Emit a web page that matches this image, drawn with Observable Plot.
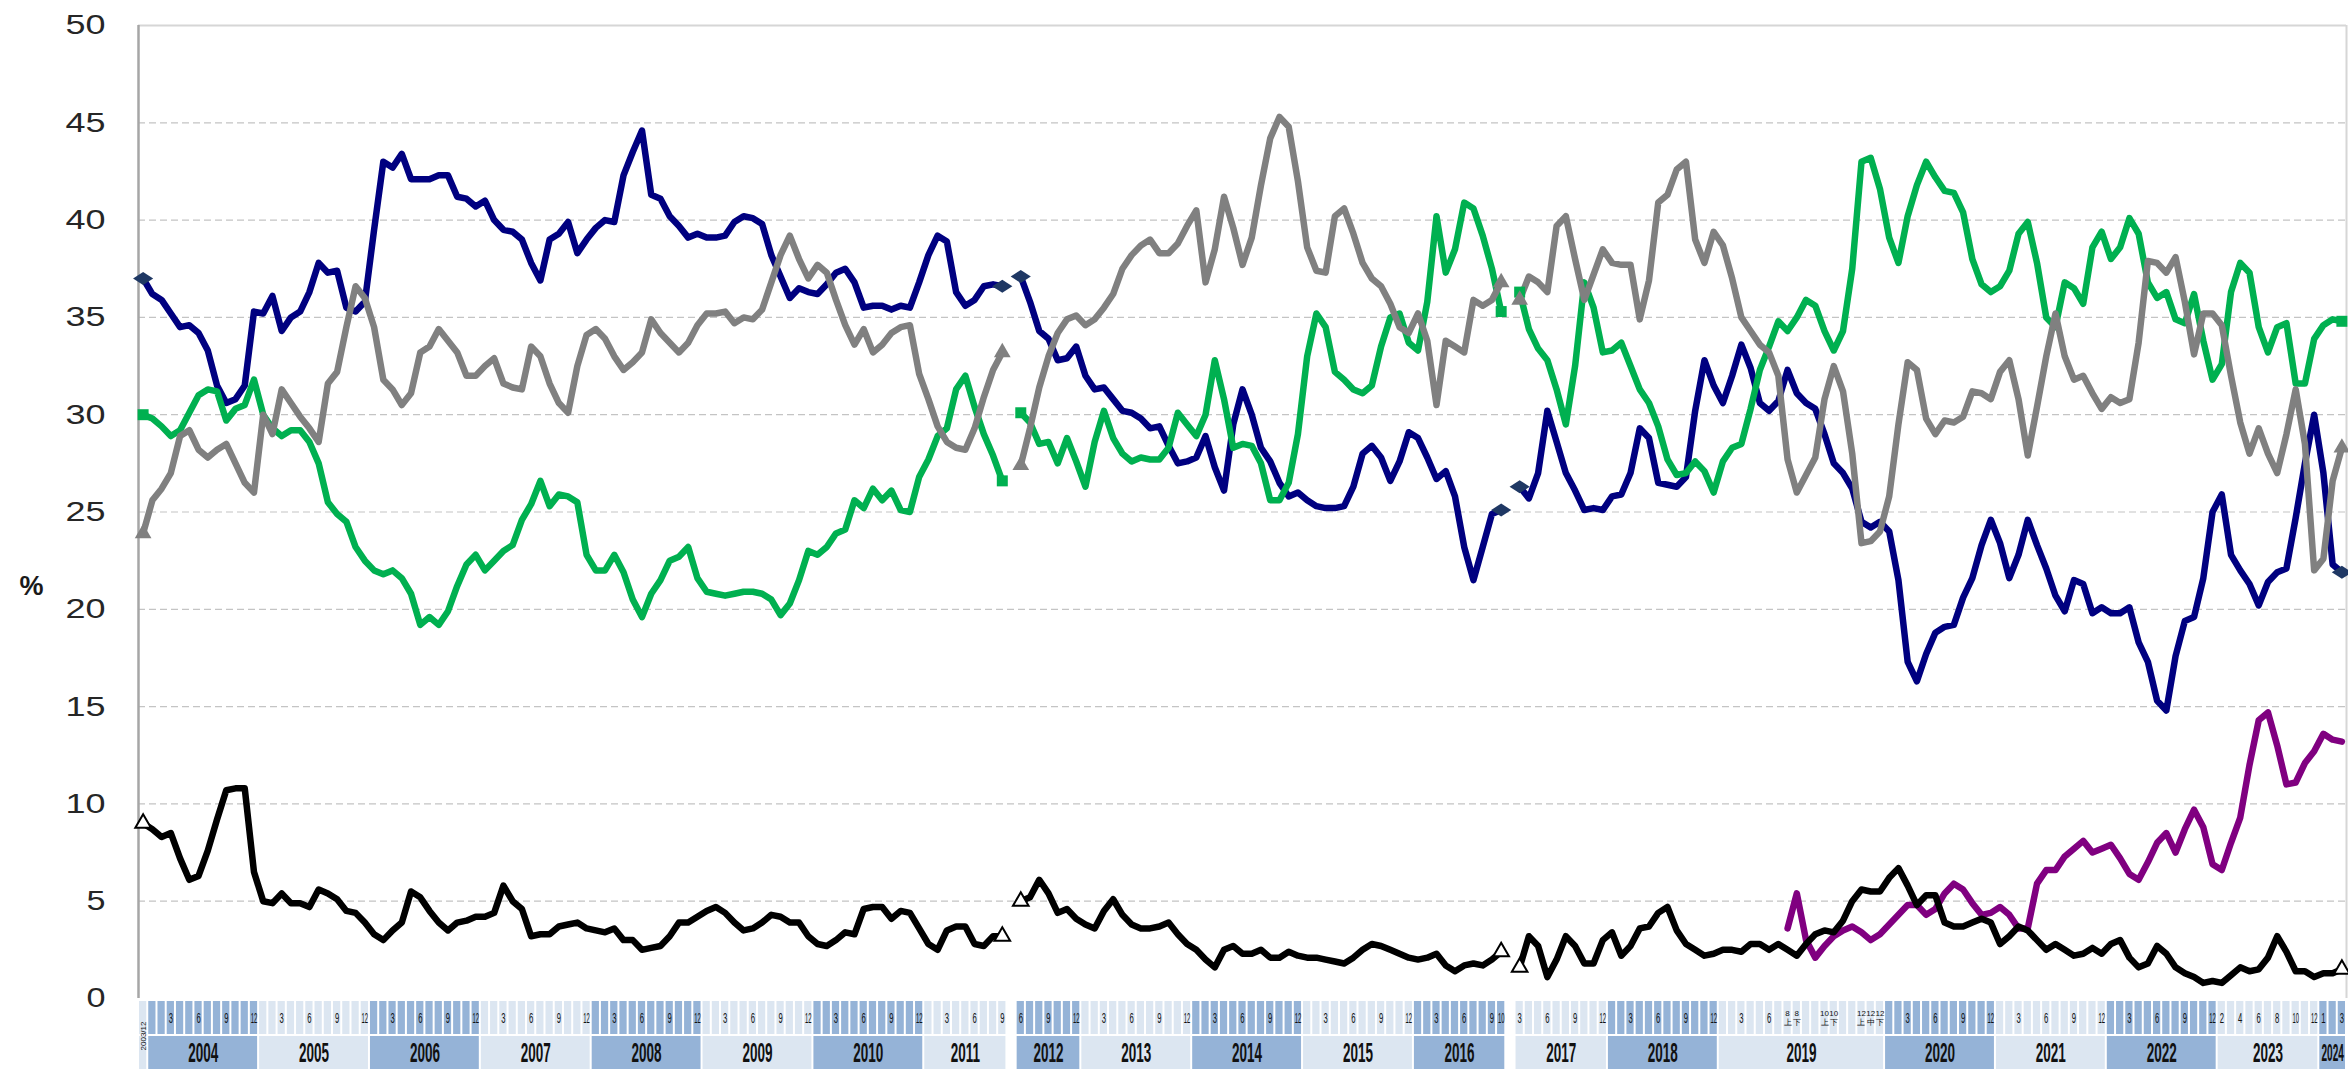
<!DOCTYPE html>
<html><head><meta charset="utf-8">
<script src="https://cdn.jsdelivr.net/npm/d3@7"></script>
<script src="https://cdn.jsdelivr.net/npm/@observablehq/plot@0.6"></script>
<style>
html,body{margin:0;padding:0;background:#fff;}
#chart{position:relative;width:2348px;height:1070px;}
#chart svg{display:block;}
#chart svg.table{position:absolute;left:0;top:1000px;}
</style></head><body><div id="chart"></div>
<script>
// ---------- axis / tick labels ----------
const yTicks = [0,5,10,15,20,25,30,35,40,45,50];
const Q12 = ["","","3","","","6","","","9","","","12"];
const axisYears = ["2003","2004","2005","2006","2007","2008","2009","2010","2011",null,"2012","2013","2014","2015","2016",null,"2017","2018","2019","2020","2021","2022","2023","2024"];
const axisMonthLabels = [
  ["12"], Q12, Q12, Q12, Q12, Q12, Q12, Q12,
  ["","","3","","","6","","","9"],
  [null],
  ["6","","","9","","","12"],
  Q12, Q12, Q12,
  ["","","3","","","6","","","9","10"],
  [null],
  ["3","","","6","","","9","","","12"],
  Q12,
  ["","","3","","","6","","8\n上","8\n下","","","10\n上","10\n下","","","12\n上","12\n中","12\n下"],
  Q12, Q12, Q12,
  ["2","","4","","6","","8","","10","","12"],
  ["1","","3"]
];

// ---------- series (%), one value per survey slot; null = break ----------
const kmt = [
37.0,36.2,35.9,35.2,34.5,34.6,34.2,33.3,31.5,30.6,
30.8,31.5,35.3,35.2,36.1,34.3,35.0,35.3,36.3,37.8,
37.3,37.4,35.5,35.3,35.8,39.5,43.0,42.7,43.4,42.1,
42.1,42.1,42.3,42.3,41.2,41.1,40.7,41.0,40.0,39.5,
39.4,39.0,37.8,36.9,39.0,39.3,39.9,38.3,39.0,39.6,
40.0,39.9,42.3,43.5,44.6,41.3,41.1,40.2,39.7,39.1,
39.3,39.1,39.1,39.2,39.9,40.2,40.1,39.8,38.2,37.1,
36.0,36.5,36.3,36.2,36.7,37.3,37.5,36.8,35.5,35.6,
35.6,35.4,35.6,35.5,36.8,38.2,39.2,38.9,36.3,35.6,
35.9,36.6,36.7,36.6,null,
37.1,35.8,34.3,33.9,32.8,
32.9,33.5,32.0,31.3,31.4,30.8,30.2,30.1,29.8,29.3,
29.4,28.4,27.5,27.6,27.8,28.9,27.3,26.1,29.5,31.3,
30.0,28.3,27.6,26.5,25.8,26.0,25.6,25.3,25.2,25.2,
25.3,26.3,28.0,28.4,27.8,26.6,27.6,29.1,28.8,27.8,
26.7,27.1,25.8,23.2,21.5,23.2,24.9,25.1,null,
26.3,25.7,27.0,30.2,28.6,27.0,26.1,25.1,25.2,25.1,25.8,
25.9,27.0,29.3,28.8,26.5,26.4,26.3,26.8,30.2,32.8,
31.5,30.6,32.0,33.6,32.4,30.6,30.2,30.7,32.3,31.1,
30.6,30.3,29.0,27.5,27.0,26.2,24.5,24.2,24.5,24.0,
21.5,17.3,16.3,17.7,18.8,19.1,19.2,20.6,21.6,23.3,
24.6,23.4,21.6,22.8,24.6,23.3,22.1,20.7,19.9,21.5,
21.3,19.8,20.1,19.8,19.8,20.1,18.3,17.3,15.3,14.8,
17.6,19.4,19.6,21.6,25.0,25.9,22.8,22.0,21.3,20.2,
21.4,21.9,22.1,24.7,27.5,30.0,27.0,22.3,21.9
];
const dpp = [
30.0,29.8,29.4,28.9,29.2,30.1,31.0,31.3,31.2,29.7,
30.3,30.5,31.8,30.0,29.3,28.9,29.2,29.2,28.6,27.5,
25.5,24.9,24.5,23.2,22.5,22.0,21.8,22.0,21.6,20.8,
19.2,19.6,19.2,19.9,21.2,22.3,22.8,22.0,22.5,23.0,
23.3,24.6,25.4,26.6,25.3,25.9,25.8,25.5,22.8,22.0,
22.0,22.8,21.9,20.5,19.6,20.8,21.5,22.5,22.7,23.2,
21.6,20.9,20.8,20.7,20.8,20.9,20.9,20.8,20.5,19.7,
20.3,21.5,23.0,22.8,23.2,23.9,24.1,25.6,25.2,26.2,
25.6,26.1,25.1,25.0,26.8,27.7,28.9,29.3,31.3,32.0,
30.4,29.0,27.9,26.6,null,
30.1,29.6,28.5,28.6,27.5,
28.8,27.6,26.3,28.6,30.2,28.8,28.0,27.6,27.8,27.7,
27.7,28.3,30.1,29.5,28.9,30.0,32.8,30.8,28.3,28.5,
28.4,27.5,25.6,25.6,26.5,29.0,33.0,35.2,34.5,32.2,
31.8,31.3,31.1,31.5,33.5,35.0,35.2,33.7,33.3,35.8,
40.2,37.3,38.5,40.9,40.6,39.2,37.5,35.3,null,
36.3,34.4,33.4,32.8,31.3,29.5,32.5,36.8,35.5,33.2,33.3,
33.7,32.5,31.3,30.6,29.4,27.7,26.9,27.0,27.6,27.1,
26.0,27.6,28.3,28.5,30.3,32.3,33.5,34.8,34.3,35.0,
35.9,35.6,34.3,33.3,34.3,37.5,43.0,43.2,41.6,39.1,
37.8,40.2,41.8,43.0,42.2,41.5,41.4,40.4,38.0,36.7,
36.3,36.6,37.4,39.3,39.9,37.8,35.0,34.5,36.8,36.5,
35.7,38.6,39.4,38.0,38.6,40.1,39.3,36.8,36.0,36.3,
34.9,34.7,36.2,33.8,31.8,32.6,36.3,37.8,37.3,34.5,
33.2,34.5,34.7,31.6,31.6,33.9,34.6,34.9,34.8
];
const neutral = [
23.9,25.6,26.2,27.0,28.9,29.2,28.2,27.8,28.2,28.5,
27.5,26.5,26.0,30.0,29.0,31.3,30.6,29.9,29.3,28.6,
31.6,32.2,34.5,36.6,36.0,34.5,31.8,31.3,30.5,31.1,
33.2,33.5,34.4,33.8,33.2,32.0,32.0,32.5,32.9,31.6,
31.4,31.3,33.5,33.0,31.6,30.6,30.1,32.5,34.1,34.4,
33.9,33.0,32.3,32.7,33.2,34.9,34.2,33.7,33.2,33.7,
34.6,35.2,35.2,35.3,34.7,35.0,34.9,35.4,36.8,38.2,
39.2,38.0,37.0,37.7,37.3,35.9,34.6,33.6,34.4,33.2,
33.6,34.2,34.5,34.6,32.1,30.8,29.4,28.6,28.3,28.2,
29.3,30.9,32.3,33.2,null,
27.4,29.3,31.4,33.0,34.2,
34.9,35.1,34.6,34.9,35.5,36.2,37.5,38.2,38.7,39.0,
38.3,38.3,38.8,39.7,40.5,36.8,38.5,41.2,39.6,37.7,
39.1,41.8,44.2,45.3,44.8,42.0,38.6,37.4,37.3,40.2,
40.6,39.3,37.8,37.0,36.6,35.7,34.5,34.2,35.2,33.8,
30.5,33.8,33.5,33.2,35.9,35.6,35.9,36.8,null,
35.9,37.1,36.8,36.3,39.7,40.2,38.0,35.9,37.2,38.5,37.8,
37.7,37.7,34.9,36.9,40.9,41.3,42.6,43.0,39.0,37.8,
39.4,38.7,37.0,35.0,34.3,33.6,33.2,32.0,27.7,26.0,
26.9,27.8,30.8,32.5,31.2,28.0,23.4,23.5,24.0,25.8,
29.5,32.7,32.3,29.8,29.0,29.7,29.6,29.9,31.2,31.1,
30.8,32.2,32.8,30.8,27.9,30.4,33.0,35.2,33.0,31.8,
32.0,31.1,30.3,30.9,30.6,30.8,33.7,37.9,37.8,37.3,
38.1,35.8,33.1,35.2,35.2,34.6,32.0,29.6,28.0,29.3,
28.0,27.0,29.0,31.3,28.5,22.0,22.6,26.6,28.3
];
const others = [
9.0,8.7,8.3,8.5,7.2,6.1,6.3,7.6,9.2,10.7,
10.8,10.8,6.5,5.0,4.9,5.4,4.9,4.9,4.7,5.6,
5.4,5.1,4.5,4.4,3.9,3.3,3.0,3.5,3.9,5.5,
5.2,4.5,3.9,3.5,3.9,4.0,4.2,4.2,4.4,5.8,
5.0,4.6,3.2,3.3,3.3,3.7,3.8,3.9,3.6,3.5,
3.4,3.6,3.0,3.0,2.5,2.6,2.7,3.2,3.9,3.9,
4.2,4.5,4.7,4.4,3.9,3.5,3.6,3.9,4.3,4.2,
3.9,3.9,3.2,2.8,2.7,3.0,3.4,3.3,4.6,4.7,
4.7,4.1,4.5,4.4,3.6,2.8,2.5,3.5,3.7,3.7,
2.8,2.7,3.2,3.2,null,
5.0,5.2,6.1,5.4,4.4,
4.6,4.1,3.8,3.6,4.5,5.1,4.3,3.8,3.6,3.6,
3.7,3.9,3.3,2.8,2.5,2.0,1.6,2.5,2.7,2.3,
2.3,2.5,2.1,2.1,2.4,2.2,2.1,2.1,2.0,1.9,
1.8,2.1,2.5,2.8,2.7,2.5,2.3,2.1,2.0,2.1,
2.3,1.7,1.4,1.7,1.8,1.7,2.0,2.4,null,
1.6,3.2,2.7,1.1,2.0,3.2,2.7,1.8,1.8,3.0,3.4,
2.2,2.7,3.6,3.7,4.4,4.7,3.5,2.8,2.5,2.2,
2.3,2.5,2.5,2.4,2.8,2.8,2.5,2.8,2.5,2.2,
2.8,3.3,3.5,3.4,4.0,5.0,5.6,5.5,5.5,6.2,
6.7,5.8,4.8,5.3,5.3,3.9,3.7,3.7,3.9,4.1,
3.9,2.8,3.2,3.7,3.5,3.0,2.5,2.8,2.5,2.2,
2.3,2.6,2.3,2.8,3.0,2.1,1.6,1.8,2.7,2.3,
1.6,1.3,1.1,0.8,0.9,0.8,1.2,1.6,1.4,1.5,
2.1,3.2,2.4,1.4,1.4,1.1,1.3,1.3,1.5
];
// newest party: values for the last surveys only
const tpp = [
3.6,5.4,3.0,2.1,2.7,3.2,3.5,3.7,3.4,3.0,3.3,3.8,
4.3,4.8,4.8,4.3,4.6,5.4,5.9,5.6,4.9,4.3,
4.4,4.7,4.3,3.6,3.6,5.9,6.6,6.6,7.3,7.7,
8.1,7.5,7.7,7.9,7.2,6.4,6.1,7.0,8.0,8.5,
7.5,8.7,9.7,8.8,6.9,6.6,8.0,9.3,12.0,14.3,
14.7,13.0,11.0,11.1,12.1,12.7,13.6,13.3,13.2
];

// ---------- build ----------
const N = axisMonthLabels.flat().length;
const alignEnd = (arr) => Array(N - arr.length).fill(null).concat(arr);
const FONT = "Liberation Sans, Arial, Helvetica, sans-serif";
const series = [
  {values: kmt, color: "#000080"},
  {values: dpp, color: "#00b050"},
  {values: alignEnd(tpp), color: "#800080"},
  {values: neutral, color: "#808080"},
  {values: others, color: "#000000"}
];
const rows = (vals) => vals.map((v, i) => ({i, v}));
function endpoints(vals) {
  const out = [];
  vals.forEach((v, i) => {
    if (v == null) return;
    if (vals[i - 1] == null || vals[i + 1] == null) out.push({i, v});
  });
  return out;
}
const wideDiamond = {
  draw(ctx, size) {
    const r = Math.sqrt(size / Math.PI);
    ctx.moveTo(-1.55 * r, 0); ctx.lineTo(0, -r); ctx.lineTo(1.55 * r, 0); ctx.lineTo(0, r); ctx.closePath();
  }
};

const main = Plot.plot({
  width: 2348, height: 1070,
  marginLeft: 138, marginRight: 2, marginTop: 25, marginBottom: 72,
  style: {fontFamily: FONT, background: "#fff"},
  x: {domain: [-0.5, N - 0.5], axis: null},
  y: {domain: [0, 50], label: null},
  marks: [
    Plot.ruleY(yTicks.filter(v => v > 0 && v < 50), {stroke: "#c4c4c4", strokeWidth: 1.2, strokeDasharray: "7,4"}),
    Plot.ruleY([50], {stroke: "#d6d6d6", strokeWidth: 2}),
    Plot.ruleX([N - 0.5], {stroke: "#d6d6d6", strokeWidth: 2}),
    Plot.ruleX([-0.5], {stroke: "#a6a6a6", strokeWidth: 2.5}),
    Plot.axisY(yTicks, {tickSize: 0, tickPadding: 33, fontSize: 28, fill: "#262626", label: null}),
    Plot.text(["%"], {frameAnchor: "left", y: () => 21.2, dx: -107, fontSize: 27, fontWeight: "bold", fill: "#1a1a1a", textAnchor: "middle"}),
    ...series.map(s => Plot.line(rows(s.values), {x: "i", y: "v", stroke: s.color, strokeWidth: 6.5, strokeLinejoin: "round", strokeLinecap: "round"})),
    Plot.dot(endpoints(kmt), {x: "i", y: "v", symbol: wideDiamond, r: 6.5, fill: "#1f3864"}),
    Plot.dot(endpoints(dpp), {x: "i", y: "v", symbol: "square", r: 6.2, fill: "#00b050"}),
    Plot.dot(endpoints(neutral), {x: "i", y: "v", symbol: "triangle", r: 6.2, fill: "#808080"}),
    Plot.dot(endpoints(others), {x: "i", y: "v", symbol: "triangle", r: 5.8, fill: "#fff", stroke: "#000", strokeWidth: 2})
  ]
});
d3.select(main).selectAll('g[aria-label="y-axis tick label"] text').each(function() {
  const t = this.textContent.trim();
  this.setAttribute("textLength", t.length >= 2 ? 40 : 19);
  this.setAttribute("lengthAdjust", "spacingAndGlyphs");
});

// axis table (month row + year row)
const DARK = "#95b3d7", LIGHT = "#dce6f1";
const cells = [], blocks = [];
let idx = 0;
axisYears.forEach((yr, b) => {
  const ms = axisMonthLabels[b];
  const start = idx;
  const dark = yr != null && (+yr) % 2 === 0;
  ms.forEach(m => {
    if (yr != null) cells.push({i: idx, label: m, dark, single: ms.length === 1});
    idx++;
  });
  if (yr != null) blocks.push({year: yr, x1: start - 0.5, x2: idx - 0.5, dark, single: ms.length === 1, n: ms.length});
});

const table = Plot.plot({
  width: 2348, height: 70,
  marginLeft: 138, marginRight: 2, marginTop: 1, marginBottom: 0,
  style: {fontFamily: FONT, background: "transparent"},
  x: {domain: [-0.5, N - 0.5], axis: null},
  y: {domain: ["m", "y"], axis: null, paddingInner: 0.05, paddingOuter: 0},
  color: {type: "identity"},
  marks: [
    Plot.barX(cells, {x1: d => d.i - 0.5, x2: d => d.i + 0.5, y: () => "m", fill: d => d.dark ? DARK : LIGHT, insetLeft: 1, insetRight: 1}),
    Plot.barX(blocks, {x1: "x1", x2: "x2", y: () => "y", fill: d => d.dark ? DARK : LIGHT, insetLeft: 1, insetRight: 1}),
    Plot.text(cells.filter(d => d.label && !d.single), {x: "i", y: () => "m", text: "label", fontSize: d => d.label.includes("\n") ? 8 : 14, lineHeight: 1.1, fill: "#111"}),
    Plot.text(blocks.filter(d => !d.single), {x: d => (d.x1 + d.x2) / 2, y: () => "y", text: "year", fontSize: 27, fontWeight: "bold", fill: "#111"}),
    Plot.text(blocks.filter(d => d.single), {x: d => (d.x1 + d.x2) / 2, frameAnchor: "middle", text: d => d.year + "/12", rotate: -90, fontSize: 8, fill: "#111"})
  ]
});
table.classList.add("table");
// squeeze the table's labels horizontally, as in the original
function squeeze(el, sx) {
  const tr = el.getAttribute("transform");
  if (tr) {
    el.setAttribute("transform", tr + ` scale(${sx},1)`);
  } else {
    const x = +(el.getAttribute("x") || 0), y = +(el.getAttribute("y") || 0);
    el.removeAttribute("x"); el.removeAttribute("y");
    el.setAttribute("transform", `translate(${x},${y}) scale(${sx},1)`);
  }
}
const textGroups = d3.select(table).selectAll('g[aria-label="text"]').nodes();
if (textGroups[0]) d3.select(textGroups[0]).selectAll("text").each(function() {
  if (this.querySelector("tspan")) return;
  const t = this.textContent.trim();
  squeeze(this, t.length >= 2 ? 0.42 : 0.55);
});
if (textGroups[1]) d3.select(textGroups[1]).selectAll("text").each(function() {
  const t = this.textContent.trim();
  if (t === "2024") { this.setAttribute("font-size", 24); squeeze(this, 0.42); }
  else squeeze(this, 0.5);
});

const root = document.getElementById("chart");
root.appendChild(main);
root.appendChild(table);
</script></body></html>
